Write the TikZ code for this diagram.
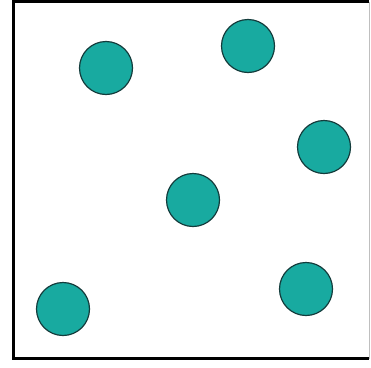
\documentclass[tikz,border=0pt]{standalone}
\definecolor{tealfill}{RGB}{24,170,160}
\definecolor{tealedge}{RGB}{20,60,60}
\tikzset{dot/.style={circle,draw=tealedge,line width=1.2pt,fill=tealfill,minimum size=53pt,inner sep=0pt}}
\begin{document}
\begin{tikzpicture}[x=1pt,y=-1pt]
\useasboundingbox (0,0) rectangle (371,367);
\fill[white] (0,0) rectangle (371,367);
\draw[black,line width=3pt] (369,1.5) -- (13.5,1.5) -- (13.5,358.5) -- (369,358.5);
\draw[gray!50,line width=1pt] (369,1.5) -- (369,358.5);
\node[dot] (c1) at (106,68) {};
\node[dot] (c2) at (248,46) {};
\node[dot] (c3) at (324,147) {};
\node[dot] (c4) at (193,200) {};
\node[dot] (c5) at (63,309) {};
\node[dot] (c6) at (306,289) {};
\end{tikzpicture}
\end{document}
